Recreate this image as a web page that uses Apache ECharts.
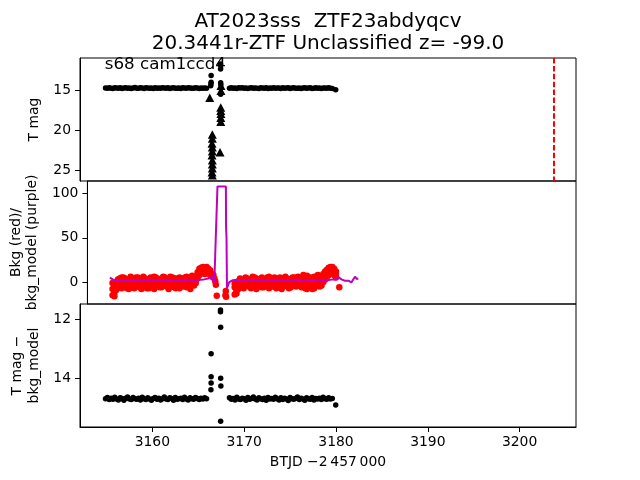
<!DOCTYPE html>
<html><head><meta charset="utf-8">
<script src="https://cdn.jsdelivr.net/npm/echarts@6/dist/echarts.min.js"></script>
<style>html,body{margin:0;padding:0;background:#fff}#c{width:640px;height:480px}</style>
</head><body><div id="c"></div>
<script>
// ---- time stamps (BTJD) of the two orbits ----
const t1 = [3154.9,3155.1,3155.3,3155.5,3155.7,3155.9,3156.1,3156.3,3156.5,3156.7,
3156.9,3157.1,3157.3,3157.5,3157.7,3157.9,3158.1,3158.3,3158.5,3158.7,
3158.9,3159.1,3159.3,3159.5,3159.7,3159.9,3160.1,3160.3,3160.5,3160.7,
3160.9,3161.1,3161.3,3161.5,3161.7,3161.9,3162.1,3162.3,3162.5,3162.7,
3162.9,3163.1,3163.3,3163.5,3163.7,3163.9,3164.1,3164.3,3164.5,3164.7,
3164.9,3165.1,3165.3,3165.5,3165.7,3165.9];
const t2 = [3168.4,3168.6,3168.8,3169.0,3169.2,3169.4,3169.6,3169.8,3170.0,3170.2,
3170.4,3170.6,3170.8,3171.0,3171.2,3171.4,3171.6,3171.8,3172.0,3172.2,
3172.4,3172.6,3172.8,3173.0,3173.2,3173.4,3173.6,3173.8,3174.0,3174.2,
3174.4,3174.6,3174.8,3175.0,3175.2,3175.4,3175.6,3175.8,3176.0,3176.2,
3176.4,3176.6,3176.8,3177.0,3177.2,3177.4,3177.6,3177.8,3178.0,3178.2,
3178.4,3178.6,3178.8,3179.0,3179.2,3179.4,3179.6];

// ---- panel 1: T mag ----
const tmag1 = [14.66,14.71,14.64,14.69,14.73,14.62,14.68,14.70,14.65,14.72,
14.67,14.63,14.70,14.68,14.74,14.66,14.61,14.69,14.71,14.65,
14.68,14.72,14.64,14.67,14.70,14.66,14.73,14.62,14.69,14.68,
14.71,14.64,14.67,14.70,14.65,14.72,14.68,14.63,14.69,14.71,
14.66,14.74,14.65,14.68,14.70,14.62,14.67,14.71,14.69,14.64,
14.68,14.72,14.66,14.70,14.67,14.69];
const tmag2 = [14.69,14.64,14.71,14.67,14.73,14.65,14.68,14.62,14.70,14.66,
14.72,14.68,14.64,14.71,14.67,14.69,14.74,14.63,14.68,14.70,
14.65,14.72,14.67,14.69,14.62,14.71,14.66,14.68,14.73,14.64,
14.70,14.67,14.65,14.72,14.68,14.63,14.69,14.71,14.66,14.74,
14.67,14.62,14.70,14.68,14.65,14.72,14.69,14.64,14.71,14.67,
14.73,14.66,14.68,14.70,14.64,14.69,14.72];
const tmagOutT = [3166.40,3166.40,3166.38,3166.36,3167.42,3167.42,3167.43,3167.44,3167.46,3167.44,3179.97];
const tmagOutV = [13.10,13.95,14.15,14.38,11.65,11.78,12.30,14.00,14.25,15.45,14.87];
const limT = [3166.25,3167.47,3167.47,3167.45,3167.45,3167.47,3167.45,3167.45,3167.37,
3166.53,3166.53,3166.50,3166.53,3166.53,3166.50,3166.53,3166.53,3166.53,3166.50,3166.53];
const limV = [15.9,14.4,15.0,17.1,17.5,17.9,18.4,18.9,22.7,
20.5,21.0,21.6,22.1,22.6,23.1,23.7,24.2,24.7,25.2,25.6];
const discoveryT = 3203.68;

// ---- panel 2: background (red) and background model (purple) ----
const bkgA1 = [-15,-12,-4,3,-6,5,-2,4,-7,1,
6,-5,2,-3,5,-6,3,-1,4,-7,
2,5,-4,6,-2,3,-6,4,-1,5,
-5,2,6,-3,4,-7,1,5,-4,3,
-2,6,-5,4,7,-3,6,11,15,16,
17,16,17,15,13,9];
const bkgB1 = [-8,-16,-9,-3,4,-7,5,-5,3,-8,
-2,4,-7,5,-4,2,-8,6,-5,3,
-7,-1,4,-8,5,-3,2,-6,6,-4,
3,-8,-2,5,-6,4,-3,-7,2,-5,
5,-6,3,-8,1,-4,-1,4,8,10,
12,9,11,10,8,6];
const bkgC1 = [-1,-9,0,-2,1,-3,2,-1,0,-2,
1,-3,-1,2,-2,0,-3,1,-1,2,
-2,0,1,-3,0,2,-1,-2,1,-3,
0,2,-2,1,-1,-3,2,0,-2,1,
-1,0,2,-2,3,1,2,7,11,13,
14,13,14,12,10,7];
const bkgA2 = [-14,-10,-3,4,-6,2,5,-4,3,-7,
6,-2,4,-5,1,5,-6,3,-3,6,
-4,2,5,-7,3,-1,4,-5,6,-2,
3,-6,5,-3,2,6,-4,4,8,-7,
7,-3,5,-8,6,2,8,-5,6,9,
12,14,16,17,17,15,12];
const bkgB2 = [-6,-13,-8,-2,3,-7,-1,4,-5,2,
-3,5,-8,3,-4,-6,2,-3,5,-7,
4,-5,-2,3,-6,5,-8,2,-3,4,
-7,3,-1,5,-5,-3,3,-6,-2,5,
-8,4,-6,3,-7,-2,1,4,-4,0,
3,6,8,10,11,8,5];
const bkgC2 = [-2,-8,1,-1,0,-3,2,-2,1,-1,
-3,0,2,-2,-1,1,-3,0,2,-1,
1,-2,0,-3,2,-1,0,2,-2,1,
-1,0,-3,2,-1,1,-2,0,3,-3,
2,-1,0,3,-2,1,4,0,2,4,
7,10,12,14,14,12,9];
const bkgOutT = [3166.05,3166.15,3166.25,3166.32,3166.42,3167.38,3167.42,3167.45,3179.97];
const bkgOutV = [8,4,1,-3,-15.4,-15,-10,-16.5,-6];
const modelT = [3154.6,3155.0,3155.5,3156.0,3156.5,3157.0,3157.5,3158.0,3158.5,3159.0,3159.5,3160.0,3160.5,3161.0,3161.5,3162.0,3162.5,3163.0,3163.5,3164.0,3164.5,3165.0,3165.5,3165.9,3166.15,3166.33,3166.5,3167.43,3167.45,3167.5,3167.55,3167.8,3168.2,3168.7,3169.2,3169.7,3170.2,3170.7,3171.2,3171.7,3172.2,3172.7,3173.2,3173.7,3174.2,3174.7,3175.2,3175.7,3176.2,3176.7,3177.2,3177.7,3178.2,3178.7,3179.2,3179.6,3179.9,3180.2,3180.6,3181.0,3181.3,3181.5,3181.7,3181.9,3182.07];
const modelV = [5,2.5,1.5,2,1.5,2,2.5,1.5,2,2.5,2,1.5,2,2.5,1.5,2,2,2.5,2,2,2.5,3,4,6,-1,56,108,108,62,50,-7,0,2,2.5,2,1.5,2,2.5,2,1.5,2,2.5,2,2,1.5,2,2.5,2,1.5,2,2.5,2,2.5,2,3,3,5.5,3,1.5,1.5,-0.5,1.5,6,3.5,4];

// ---- panel 3: T mag - bkg_model ----
const diff1 = [14.68,14.64,14.71,14.66,14.70,14.63,14.69,14.72,14.65,14.67,
14.73,14.66,14.62,14.69,14.71,14.64,14.68,14.70,14.66,14.72,
14.63,14.68,14.71,14.65,14.69,14.73,14.67,14.64,14.70,14.66,
14.72,14.68,14.62,14.69,14.71,14.65,14.67,14.73,14.64,14.70,
14.68,14.66,14.71,14.63,14.69,14.72,14.65,14.68,14.70,14.64,
14.67,14.71,14.66,14.69,14.65,14.68];
const diff2 = [14.65,14.70,14.67,14.72,14.63,14.69,14.71,14.66,14.68,14.73,
14.64,14.70,14.67,14.62,14.69,14.72,14.65,14.68,14.71,14.66,
14.73,14.64,14.69,14.67,14.70,14.63,14.68,14.72,14.65,14.71,
14.66,14.69,14.74,14.64,14.68,14.70,14.67,14.62,14.71,14.66,
14.69,14.73,14.65,14.68,14.70,14.64,14.72,14.67,14.69,14.66,
14.71,14.63,14.68,14.70,14.65,14.69,14.67];
const diffOutT = [3166.40,3166.40,3166.40,3166.38,3167.42,3167.42,3167.44,3167.44,3167.46,3167.44,3179.97];
const diffOutV = [13.17,13.94,14.15,14.38,11.70,11.76,12.28,13.99,14.25,15.44,14.89];

// ---- ticks / labels ----
const xTicks = [3160,3170,3180,3190,3200];
const yTicks1 = [15,20,25];
const yTicks2 = [0,50,100];
const yTicks3 = [12,14];
const titleLine1 = 'AT2023sss  ZTF23abdyqcv';
const titleLine2 = '20.3441r-ZTF Unclassified z= -99.0';
const panelNote = 's68 cam1ccd4';
const xName = 'BTJD \u22122\u2009457\u2009000';
const yNames = ['T mag', 'Bkg (red)/\nbkg_model (purple)', 'T mag \u2212\nbkg_model'];

function pairs(xs, ys){ const o=[]; const n=Math.min(xs.length, ys.length); for(let i=0;i<n;i++) o.push([xs[i], ys[i]]); return o; }
const plain = v => String(v);

const FONT = 'DejaVu Sans';
const FS = 13.9;
const tops = [58, 181, 304];
const grid = tops.map(t => ({left:80, right:64, top:t, height:123, show:true, borderColor:'#000', borderWidth:1, backgroundColor:'transparent', containLabel:false}));

const xAxis = [0,1,2].map(i => ({
  type:'value', gridIndex:i, min:3152.12, max:3206.14,
  axisLine:{show:i===2, lineStyle:{color:'#000', width:1}},
  splitLine:{show:false},
  axisTick:{show:i===2, customValues:xTicks, length:5, lineStyle:{color:'#000', width:1}},
  axisLabel:{show:i===2, customValues:xTicks, formatter:plain, color:'#000', fontSize:FS, fontFamily:FONT, margin:8},
  name: i===2 ? xName : '', nameLocation:'middle', nameGap:28,
  nameTextStyle:{color:'#000', fontSize:FS, fontFamily:FONT}
}));

function yax(i, min, max, inverse, ticks, gap){
  return {
    type:'value', gridIndex:i, min:min, max:max, inverse:inverse,
    axisLine:{show:true, lineStyle:{color:'#000', width:1}},
    splitLine:{show:false},
    axisTick:{show:true, customValues:ticks, length:5, lineStyle:{color:'#000', width:1}},
    axisLabel:{customValues:ticks, formatter:plain, color:'#000', fontSize:FS, fontFamily:FONT, margin:9},
    name:yNames[i], nameLocation:'middle', nameGap:gap,
    nameTextStyle:{color:'#000', fontSize:FS, fontFamily:FONT, lineHeight:16.5, align:'center'}
  };
}
const yAxis = [
  yax(0, 10.91, 26.31, true, yTicks1, 32),
  yax(1, -24.8, 114.1, false, yTicks2, 43),
  yax(2, 11.497, 15.63, true, yTicks3, 32)
];

const dot = {type:'scatter', symbol:'circle', symbolSize:5.5, animation:false};
const series = [
  Object.assign({}, dot, {xAxisIndex:0, yAxisIndex:0, itemStyle:{color:'#000', opacity:1},
    data: pairs(t1,tmag1).concat(pairs(t2,tmag2), pairs(tmagOutT,tmagOutV)),
    markLine:{silent:true, symbol:'none', label:{show:false}, animation:false,
      lineStyle:{color:'#ff0000', width:2, type:[5.5,2.4], opacity:1}, data:[{xAxis:discoveryT}]}}),
  {type:'scatter', xAxisIndex:0, yAxisIndex:0, symbol:'triangle', symbolSize:[9,8.5], itemStyle:{color:'#000', opacity:1}, animation:false,
    data: pairs(limT, limV)},
  Object.assign({}, dot, {xAxisIndex:1, yAxisIndex:1, symbolSize:6.5, itemStyle:{color:'#ff0000', opacity:1}, z:2,
    data: pairs(t1,bkgA1).concat(pairs(t1,bkgB1), pairs(t1,bkgC1), pairs(t2,bkgA2), pairs(t2,bkgB2), pairs(t2,bkgC2), pairs(bkgOutT,bkgOutV))}),
  {type:'line', xAxisIndex:1, yAxisIndex:1, showSymbol:false, symbol:'none', z:3, animation:false,
    lineStyle:{color:'#bf00bf', width:2}, data: pairs(modelT, modelV)},
  Object.assign({}, dot, {xAxisIndex:2, yAxisIndex:2, itemStyle:{color:'#000', opacity:1},
    data: pairs(t1,diff1).concat(pairs(t2,diff2), pairs(diffOutT,diffOutV))})
];

const chart = echarts.init(document.getElementById('c'), null, {renderer:'canvas'});
chart.setOption({
  animation:false,
  backgroundColor:'#fff',
  textStyle:{fontFamily:FONT},
  grid:grid, xAxis:xAxis, yAxis:yAxis, series:series,
  graphic:[
    {type:'text', x:328, y:31.3, style:{text:titleLine1, font:'20px "DejaVu Sans"', fill:'#000', align:'center', verticalAlign:'bottom'}},
    {type:'text', x:328, y:53.3, style:{text:titleLine2, font:'20px "DejaVu Sans"', fill:'#000', align:'center', verticalAlign:'bottom'}},
    {type:'text', x:104.8, y:73.6, z:100, style:{text:panelNote, font:'16.7px "DejaVu Sans"', fill:'#000', align:'left', verticalAlign:'bottom'}}
  ]
});
</script></body></html>
